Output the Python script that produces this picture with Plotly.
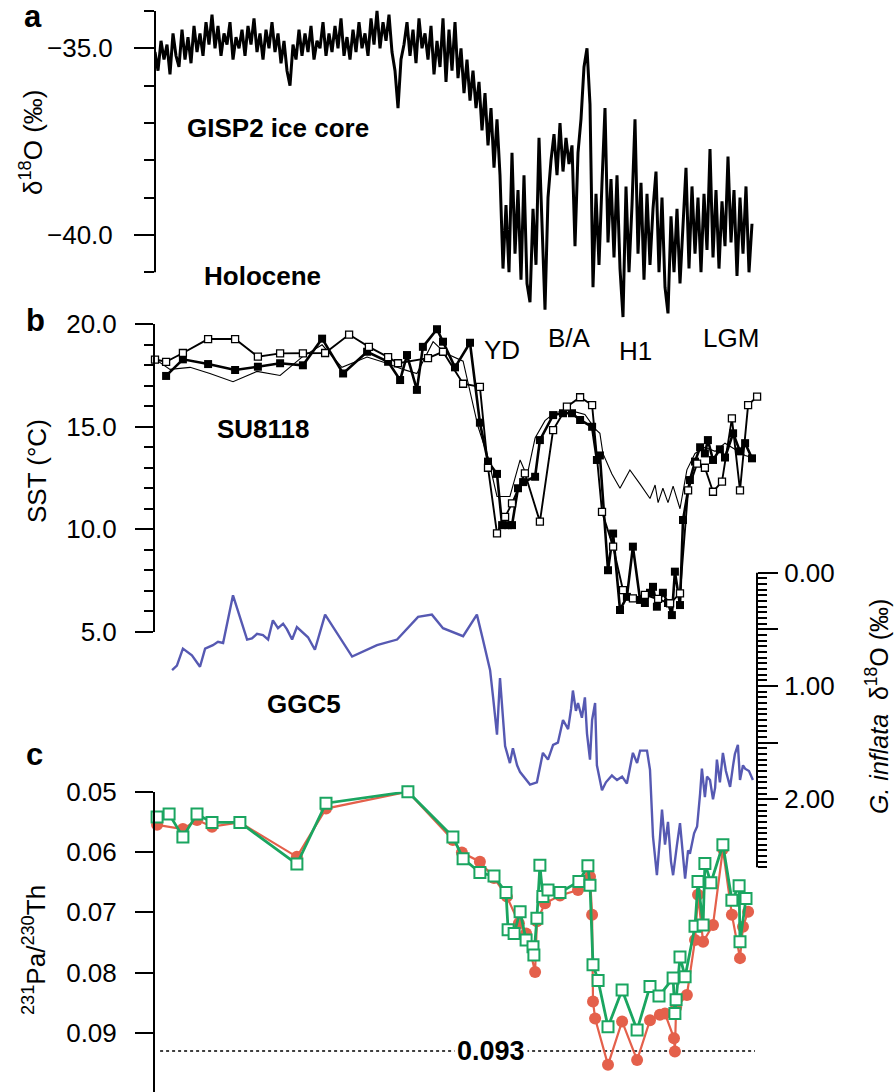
import plotly.graph_objects as go

FONT = "Liberation Sans, Arial, Helvetica, sans-serif"

# ---------------- panel a : GISP2 d18O (permil) ----------------
gisp2_age = [
    0.0, 0.1, 0.2, 0.3, 0.4, 0.5, 0.6, 0.7, 0.8, 0.9, 1.0, 1.1, 1.2, 1.3, 1.4, 1.5, 1.6, 1.7, 1.8, 1.9,
    2.0, 2.1, 2.2, 2.3, 2.4, 2.5, 2.6, 2.7, 2.8, 2.9, 3.0, 3.1, 3.2, 3.3, 3.4, 3.5, 3.6, 3.7, 3.8, 3.9,
    4.0, 4.1, 4.2, 4.3, 4.4, 4.5, 4.6, 4.7, 4.8, 4.9, 5.0, 5.1, 5.2, 5.3, 5.4, 5.5, 5.6, 5.7, 5.8, 5.9,
    6.0, 6.1, 6.2, 6.3, 6.4, 6.5, 6.6, 6.7, 6.8, 6.9, 7.0, 7.1, 7.2, 7.3, 7.4, 7.5, 7.6, 7.7, 7.8, 7.9,
    8.0, 8.1, 8.2, 8.3, 8.4, 8.5, 8.6, 8.7, 8.8, 8.9, 9.0, 9.1, 9.2, 9.3, 9.4, 9.5, 9.6, 9.7, 9.8, 9.9,
    10.0, 10.1, 10.2, 10.3, 10.4, 10.5, 10.6, 10.7, 10.8, 10.9, 11.0, 11.1, 11.2, 11.3, 11.4, 11.5, 11.6, 11.7, 11.8, 11.9,
    12.0, 12.1, 12.2, 12.3, 12.4, 12.5, 12.6, 12.7, 12.8, 12.9, 13.0, 13.1, 13.2, 13.3, 13.4, 13.5, 13.6, 13.7, 13.8, 13.9,
    14.0, 14.1, 14.2, 14.3, 14.4, 14.5, 14.6, 14.7, 14.8, 14.9, 15.0, 15.1, 15.2, 15.3, 15.4, 15.5, 15.6, 15.7, 15.8, 15.9,
    16.0, 16.1, 16.2, 16.3, 16.4, 16.5, 16.6, 16.7, 16.8, 16.9, 17.0, 17.1, 17.2, 17.3, 17.4, 17.5, 17.6, 17.7, 17.8, 17.9,
    18.0, 18.1, 18.2, 18.3, 18.4, 18.5, 18.6, 18.7, 18.8, 18.9, 19.0, 19.1, 19.2, 19.3, 19.4, 19.5, 19.6, 19.7, 19.8, 19.9,
]
gisp2_d18o = [
    -35.1, -35.6, -34.8, -35.3, -34.9, -35.7, -34.6, -35.2, -35.5, -34.5,
    -35.3, -34.7, -35.4, -34.4, -35.1, -34.6, -35.2, -34.3, -34.9, -34.1,
    -35.0, -34.4, -35.2, -34.6, -34.9, -34.3, -35.3, -34.7, -35.0, -34.5,
    -35.2, -34.4, -34.9, -34.2, -35.1, -34.6, -35.3, -34.5, -35.0, -34.3,
    -35.1, -34.6, -35.4, -34.8, -35.6, -36.0, -34.9, -35.3, -34.5, -35.2,
    -34.6, -35.1, -34.4, -35.3, -34.8, -35.0, -34.3, -35.2, -34.6, -35.1,
    -34.4, -35.0, -34.2, -35.2, -34.7, -35.3, -34.5, -35.1, -34.3, -35.0,
    -34.6, -35.2, -34.2, -34.9, -34.0, -35.0, -34.3, -34.8, -34.1, -35.1,
    -35.6, -36.6, -35.3, -34.9, -34.3, -35.2, -34.5, -35.4, -34.2, -35.0,
    -34.6, -35.3, -34.4, -35.7, -34.8, -35.5, -34.2, -35.9, -34.5, -35.6,
    -34.3, -35.8, -35.0, -36.2, -35.3, -36.4, -35.6, -36.6, -35.9, -37.2,
    -36.2, -37.6, -36.6, -38.2, -36.9, -38.4, -40.9, -39.2, -41.0, -37.8,
    -40.5, -38.8, -41.2, -38.4, -41.3, -41.8, -39.3, -40.8, -37.4, -39.5,
    -42.0, -39.0, -38.0, -37.3, -38.4, -37.0, -38.3, -37.4, -38.1, -37.6,
    -40.3, -37.8, -36.9, -35.5, -35.0, -36.5, -41.4, -38.9, -40.8, -38.6,
    -36.6, -40.2, -38.5, -40.6, -38.4, -40.9, -42.2, -38.7, -41.0, -39.2,
    -36.9, -40.5, -38.6, -41.2, -38.9, -40.8, -39.3, -38.3, -41.0, -39.0,
    -41.4, -42.1, -39.5, -41.0, -39.3, -41.3, -39.6, -38.2, -40.9, -38.7,
    -40.5, -39.0, -41.0, -38.9, -40.4, -37.7, -40.6, -38.8, -40.9, -39.1,
    -40.3, -37.9, -40.2, -38.8, -41.1, -39.0, -40.5, -38.7, -41.0, -39.7,
]
gisp2_ticks = [-35.0, -40.0]
gisp2_ticktext = ["\u221235.0", "\u221240.0"]
gisp2_minor = [-34, -36, -37, -38, -39, -41]
gisp2_axis_span = [-34, -41]

# ---------------- panel b : SU8118 SST (deg C) ----------------
sst_thin_age = [0.0, 0.5, 1.17, 1.83, 2.6, 3.4, 4.17, 4.9, 5.57, 6.23,
                7.07, 7.73, 8.27, 8.73, 9.27, 9.67, 10.27, 10.77, 11.1, 11.4,
                11.83, 12.17, 12.4, 12.67, 13.0, 13.33, 13.83, 14.33, 14.67, 14.83,
                14.93, 15.23, 15.5, 15.83, 16.17, 16.5, 16.67, 16.77, 16.93, 17.1,
                17.27, 17.5, 17.73, 18.0, 18.33, 18.67, 19.0, 19.33, 19.67, 19.9]
sst_thin = [18.3, 17.8, 17.9, 17.6, 17.2, 17.7, 17.5, 18.4, 19.0, 17.9,
            18.4, 18.1, 17.8, 17.6, 19.15, 18.6, 18.2, 15.0, 13.5, 11.6,
            11.6, 13.38, 12.6, 14.45, 15.3, 15.7, 15.8, 15.6, 14.9, 14.68,
            13.7, 12.7, 12.0, 12.89, 12.2, 11.5, 12.16, 11.3, 12.0, 11.3,
            12.1, 11.0, 12.9, 13.7, 14.0, 13.8, 14.2, 13.9, 13.6, 13.5]

sst_filled_age = [0.37, 0.93, 1.77, 2.67, 3.43, 4.17, 4.93, 5.57, 6.27, 7.07,
                  7.77, 8.17, 8.4, 8.73, 8.93, 9.4, 9.6, 10.0, 10.5, 10.83,
                  11.1, 11.4, 11.57, 11.77, 11.9, 12.1, 12.27, 12.67, 12.83, 13.27,
                  13.6, 13.9, 14.17, 14.57, 14.73, 14.83, 15.1, 15.27, 15.5, 15.73,
                  15.93, 16.17, 16.33, 16.5, 16.6, 16.73, 16.93, 17.1, 17.23, 17.33,
                  17.5, 17.6, 17.83, 18.0, 18.17, 18.33, 18.43, 18.6, 18.83, 19.0,
                  19.27, 19.5, 19.67, 19.9]
sst_filled = [17.48, 18.29, 18.06, 17.77, 17.93, 18.1, 18.0, 19.3, 17.6, 18.66,
              18.17, 17.28, 18.5, 16.8, 18.9, 19.76, 19.15, 17.9, 19.1, 15.2,
              13.3, 12.7, 10.2, 10.2, 10.2, 12.0, 12.3, 12.56, 14.35, 15.57,
              15.66, 15.66, 15.33, 15.0, 13.38, 13.6, 8.0, 9.79, 6.06, 6.7,
              9.15, 6.55, 6.4, 6.9, 7.19, 6.22, 6.9, 6.4, 5.81, 7.93,
              6.3, 10.45, 12.4, 13.3, 14.0, 13.7, 14.35, 13.38, 13.9, 13.5,
              14.68, 13.8, 14.2, 13.46]

sst_open_age = [0.0, 0.37, 0.93, 1.77, 2.67, 3.43, 4.17, 4.93, 5.67, 6.47,
                7.13, 7.77, 8.1, 9.1, 9.6, 10.27, 10.83, 11.1, 11.4, 11.67,
                11.9, 12.33, 12.83, 13.27, 13.73, 14.17, 14.57, 14.9, 15.27, 15.6,
                15.93, 16.33, 16.77, 17.17, 17.5, 17.77, 18.07, 18.33, 18.6, 18.9,
                19.23, 19.5, 19.77, 20.07]
sst_open = [18.28, 18.17, 18.6, 19.28, 19.28, 18.42, 18.58, 18.58, 18.6, 19.5,
            18.9, 18.4, 18.1, 18.35, 18.66, 17.1, 16.95, 13.0, 9.8, 10.6,
            11.26, 12.73, 10.37, 14.84, 15.98, 16.44, 16.06, 10.85, 9.15, 7.03,
            6.63, 6.8, 6.6, 6.38, 6.87, 11.9, 13.2, 13.0, 11.83, 12.32,
            15.41, 11.9, 16.06, 16.47]
sst_ticks = [20, 15, 10, 5]
sst_ticktext = ["20.0", "15.0", "10.0", "5.0"]
sst_minor = [6, 7, 8, 9, 11, 12, 13, 14, 16, 17, 18, 19]

# ---------------- GGC5 G. inflata d18O (permil) ----------------
ggc5_age = [0.57, 0.73, 0.93, 1.23, 1.5, 1.67, 1.93, 2.1, 2.27, 2.6,
            3.07, 3.23, 3.4, 3.6, 3.77, 3.93, 4.1, 4.27, 4.4, 4.57,
            4.73, 4.9, 5.1, 5.33, 5.67, 6.57, 7.4, 8.07, 8.77, 9.23,
            9.6, 10.27, 10.73, 10.93, 11.17, 11.27, 11.4, 11.5, 11.67, 11.83,
            11.93, 12.07, 12.17, 12.5, 12.73, 12.93, 13.1, 13.27, 13.43, 13.6,
            13.77, 13.87, 13.93, 14.03, 14.1, 14.23, 14.33, 14.4, 14.5, 14.57,
            14.67, 14.73, 14.9, 15.03, 15.23, 15.4, 15.57, 15.73, 15.93, 16.07,
            16.17, 16.4, 16.5, 16.6, 16.73, 16.83, 16.9, 17.0, 17.1, 17.2,
            17.27, 17.4, 17.5, 17.6, 17.67, 17.77, 17.83, 17.97, 18.07, 18.17,
            18.23, 18.33, 18.4, 18.5, 18.6, 18.67, 18.73, 18.83, 18.93, 19.03,
            19.17, 19.27, 19.33, 19.43, 19.5, 19.6, 19.67, 19.8, 19.93]
ggc5_d18o = [0.86, 0.82, 0.67, 0.73, 0.83, 0.67, 0.64, 0.61, 0.62, 0.20,
             0.59, 0.58, 0.54, 0.55, 0.59, 0.42, 0.49, 0.45, 0.50, 0.59,
             0.48, 0.52, 0.57, 0.68, 0.37, 0.74, 0.64, 0.59, 0.39, 0.37,
             0.49, 0.56, 0.37, 0.59, 0.86, 1.10, 1.43, 0.93, 1.53, 1.68,
             1.55, 1.70, 1.76, 1.87, 1.85, 1.59, 1.65, 1.52, 1.50, 1.30,
             1.38, 1.20, 1.04, 1.22, 1.15, 1.28, 1.10, 1.42, 1.65, 1.30,
             1.15, 1.70, 1.92, 1.85, 1.79, 1.83, 1.80, 1.86, 1.59, 1.68,
             1.57, 1.57, 1.74, 2.33, 2.67, 2.35, 2.09, 2.40, 2.20, 2.55,
             2.67, 2.40, 2.21, 2.50, 2.70, 2.45, 2.48, 2.30, 2.24, 1.95,
             1.73, 1.98, 1.80, 1.83, 2.00, 1.90, 1.65, 1.85, 1.59, 1.75,
             1.89, 1.70, 1.60, 1.52, 1.83, 1.70, 1.73, 1.75, 1.83]
ggc5_ticks = [0.0, 0.5, 1.0, 1.5, 2.0]
ggc5_ticktext = ["0.00", " ", "1.00", " ", "2.00"]
ggc5_minor = [0.05, 0.1, 0.15, 0.2, 0.25, 0.3, 0.35, 0.4, 0.45, 0.55, 0.6, 0.65, 0.7, 0.75,
              0.8, 0.85, 0.9, 0.95, 1.05, 1.1, 1.15, 1.2, 1.25, 1.3, 1.35, 1.4, 1.45, 1.55,
              1.6, 1.65, 1.7, 1.75, 1.8, 1.85, 1.9, 1.95, 2.05, 2.1, 2.15, 2.2, 2.25, 2.3,
              2.35, 2.4, 2.45, 2.5, 2.55, 2.6]
ggc5_axis_span = [0.0, 2.6]

# ---------------- panel c : 231Pa/230Th ----------------
pa_red_age = [0.07, 0.93, 1.4, 1.9, 2.83, 4.73, 5.7, 8.43, 9.93, 10.23,
              10.83, 11.3, 11.73, 12.13, 12.37, 12.67, 12.73, 13.0, 13.5, 14.1,
              14.5, 14.57, 14.6, 14.67, 15.1, 15.57, 16.07, 16.5, 16.83, 17.0,
              17.3, 17.33, 17.37, 17.73, 18.0, 18.1, 18.27, 18.6, 18.93, 19.23,
              19.5, 19.6, 19.77]
pa_red = [0.0555, 0.0562, 0.0547, 0.0558, 0.0551, 0.0608, 0.0528, 0.0500, 0.0580, 0.0601,
          0.0616, 0.0643, 0.0674, 0.0718, 0.0735, 0.0799, 0.0715, 0.0685, 0.0672, 0.0663,
          0.0641, 0.0704, 0.0848, 0.0876, 0.0953, 0.0881, 0.0945, 0.0879, 0.0870, 0.0868,
          0.0909, 0.0931, 0.0858, 0.0837, 0.0746, 0.0671, 0.0749, 0.0721, 0.0595, 0.0704,
          0.0776, 0.0724, 0.0699]
pa_green_age = [0.07, 0.47, 0.93, 1.4, 1.9, 2.83, 4.73, 5.7, 8.43, 9.93,
                10.27, 10.83, 11.3, 11.7, 11.77, 11.97, 12.17, 12.37, 12.6, 12.63,
                12.73, 12.83, 12.93, 13.1, 13.5, 14.13, 14.43, 14.5, 14.6, 14.77,
                15.1, 15.57, 16.07, 16.5, 16.8, 17.27, 17.33, 17.37, 17.5, 17.67,
                18.0, 18.1, 18.27, 18.33, 18.53, 18.93, 19.23, 19.47, 19.5, 19.7]
pa_green = [0.0542, 0.0537, 0.0575, 0.0537, 0.0551, 0.0551, 0.0620, 0.0519, 0.0500, 0.0575,
            0.0611, 0.0634, 0.0640, 0.0667, 0.0729, 0.0735, 0.0699, 0.0746, 0.0757, 0.0771,
            0.0710, 0.0622, 0.0674, 0.0663, 0.0667, 0.0649, 0.0623, 0.0655, 0.0787, 0.0813,
            0.0890, 0.0829, 0.0895, 0.0823, 0.0839, 0.0809, 0.0868, 0.0845, 0.0774, 0.0807,
            0.0723, 0.0649, 0.0721, 0.0619, 0.0651, 0.0588, 0.0680, 0.0656, 0.0749, 0.0677]
pa_ticks = [0.05, 0.06, 0.07, 0.08, 0.09]
pa_ticktext = ["0.05", "0.06", "0.07", "0.08", "0.09"]
production_ratio = 0.093
production_span = [0.17, 20.0]
production_label_age = 11.2

# ---------------- figure ----------------
W, H = 896, 1092
def px(x):
    return x / W
def py(y):
    return 1 - y / H

BLUE = "#5659B2"
RED = "#E4604B"
GREEN = "#1AA560"

fig = go.Figure()

fig.add_trace(go.Scatter(x=gisp2_age, y=gisp2_d18o, mode="lines", xaxis="x", yaxis="y",
                         line=dict(color="black", width=3.0), hoverinfo="skip"))

fig.add_trace(go.Scatter(x=sst_thin_age, y=sst_thin, mode="lines", xaxis="x", yaxis="y2",
                         line=dict(color="black", width=1.1)))
fig.add_trace(go.Scatter(x=sst_filled_age, y=sst_filled, mode="lines+markers", xaxis="x", yaxis="y2",
                         line=dict(color="black", width=2.6), cliponaxis=False,
                         marker=dict(symbol="square", size=8, color="black")))
fig.add_trace(go.Scatter(x=sst_open_age, y=sst_open, mode="lines+markers", xaxis="x", yaxis="y2",
                         line=dict(color="black", width=1.9), cliponaxis=False,
                         marker=dict(symbol="square", size=7, color="white",
                                     line=dict(color="black", width=1.3))))

fig.add_trace(go.Scatter(x=ggc5_age, y=ggc5_d18o, mode="lines", xaxis="x", yaxis="y3",
                         line=dict(color=BLUE, width=2.4)))

fig.add_trace(go.Scatter(x=pa_red_age, y=pa_red, mode="lines+markers", xaxis="x", yaxis="y4",
                         line=dict(color=RED, width=2.2), cliponaxis=False,
                         marker=dict(symbol="circle", size=12, color=RED)))
fig.add_trace(go.Scatter(x=pa_green_age, y=pa_green, mode="lines+markers", xaxis="x", yaxis="y4",
                         line=dict(color=GREEN, width=2.8), cliponaxis=False,
                         marker=dict(symbol="square", size=11, color="white",
                                     line=dict(color=GREEN, width=2))))

tickfont = dict(family=FONT, size=26, color="black")
common = dict(showgrid=False, zeroline=False, ticks="outside", tickwidth=2, tickcolor="black",
              tickfont=tickfont, linecolor="black", linewidth=2, tickmode="array",
              automargin=False)

fig.update_layout(
    width=W, height=H, autosize=False,
    margin=dict(l=0, r=0, t=0, b=0, pad=0, autoexpand=False),
    paper_bgcolor="white", plot_bgcolor="rgba(0,0,0,0)",
    showlegend=False,
    font=dict(family=FONT, color="black"),
    xaxis=dict(domain=[px(155), px(785)], range=[0, 21], visible=False, automargin=False),
    yaxis=dict(domain=[py(320), py(0)], range=[-42.278, -33.706], showline=False,
               tickvals=gisp2_ticks, ticktext=gisp2_ticktext, ticklen=20, ticklabelstandoff=16,
               minor=dict(tickmode="array", tickvals=gisp2_minor, ticks="outside", ticklen=10,
                          tickwidth=2, tickcolor="black"),
               anchor="x", **common),
    yaxis2=dict(domain=[py(631.7), py(324.3)], range=[5, 20], showline=True,
                tickvals=sst_ticks, ticktext=sst_ticktext, ticklen=18, ticklabelstandoff=13,
                minor=dict(tickmode="array", tickvals=sst_minor, ticks="outside", ticklen=9,
                           tickwidth=2, tickcolor="black"),
                anchor="x", **common),
    yaxis3=dict(domain=[py(890), py(560)], range=[2.8005, -0.1121], showline=False,
                side="right", anchor="free", position=px(757),
                tickvals=ggc5_ticks, ticktext=ggc5_ticktext, ticklen=20, ticklabelstandoff=1,
                minor=dict(tickmode="array", tickvals=ggc5_minor, ticks="outside", ticklen=9,
                           tickwidth=2, tickcolor="black"),
                **common),
    yaxis4=dict(domain=[0, py(791.7)], range=[0.0998, 0.05], showline=True,
                tickvals=pa_ticks, ticktext=pa_ticktext, ticklen=18, ticklabelstandoff=13,
                anchor="x", **common),
)

fig.add_shape(type="line", xref="paper", yref="y", x0=px(155), x1=px(155),
              y0=gisp2_axis_span[0], y1=gisp2_axis_span[1], line=dict(color="black", width=2))
fig.add_shape(type="line", xref="paper", yref="y3", x0=px(757), x1=px(757),
              y0=ggc5_axis_span[0], y1=ggc5_axis_span[1], line=dict(color="black", width=2))
fig.add_shape(type="line", xref="x", yref="y4", x0=production_span[0], x1=production_span[1],
              y0=production_ratio, y1=production_ratio,
              line=dict(color="black", width=1.4, dash="3px,3px"), layer="below")

def note(text, x, y, size=26, bold=False, angle=0, **kw):
    t = f"<b>{text}</b>" if bold else text
    fig.add_annotation(text=t, x=px(x), y=py(y), xref="paper", yref="paper",
                       showarrow=False, textangle=angle, xanchor="center", yanchor="middle",
                       font=dict(family=FONT, size=size, color="black"), **kw)

note("a", 33, 17, size=31, bold=True)
note("b", 35, 320, size=31, bold=True)
note("c", 34, 754, size=31, bold=True)
note("GISP2 ice core", 278, 128, size=26, bold=True)
note("Holocene", 262, 276, size=26, bold=True)
note("SU8118", 263, 429, size=26, bold=True)
note("GGC5", 304, 704, size=26, bold=True)
note("YD", 502, 350)
note("B/A", 569, 338)
note("H1", 635, 351)
note("LGM", 731, 338)
note("\u03b4<sup>18</sup>O (\u2030)", 32, 143, angle=-90)
note("SST (\u00b0C)", 37, 471, angle=-90)
note("<sup>231</sup>Pa/<sup>230</sup>Th", 34, 950, angle=-90)
note("<i>G. inflata</i>  \u03b4<sup>18</sup>O (\u2030)", 877, 707, size=25, angle=-90)

fig.add_annotation(text=f"<b>{production_ratio:.3f}</b>", x=production_label_age, y=production_ratio,
                   xref="x", yref="y4", showarrow=False, xanchor="center", yanchor="middle",
                   bgcolor="white", borderpad=2,
                   font=dict(family=FONT, size=27, color="black"))

fig.write_html("out.html")
